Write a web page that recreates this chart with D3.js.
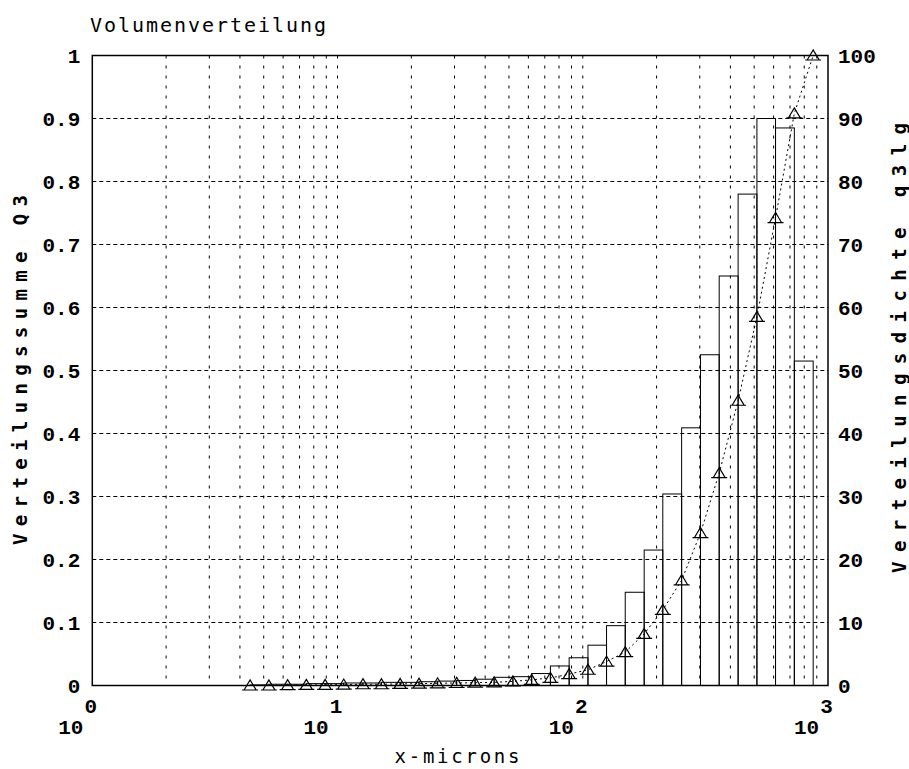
<!DOCTYPE html>
<html>
<head>
<meta charset="utf-8">
<script src="https://cdn.jsdelivr.net/npm/d3@7"></script>
<style>
  html, body { margin: 0; padding: 0; background: #fff; }
  svg { display: block; }
  .lbl { font-family: "DejaVu Sans Mono", monospace; fill: #000; }
  .num { font-family: "Liberation Mono", "DejaVu Sans Mono", monospace; font-weight: bold; fill: #000; }
</style>
</head>
<body>
<svg id="chart" width="909" height="769"></svg>
<script>
// Particle size classes (upper edges, microns)
const binEdges = [4.4, 5.25, 6.26, 7.46, 8.9, 10.6, 12.7, 15.1, 18.0, 21.5, 25.6,
  30.6, 36.4, 43.5, 51.9, 61.9, 73.8, 88.0, 105, 125, 149, 178, 212, 253, 302,
  360, 430, 513, 611, 729, 870];

// Density distribution q3lg per class (right axis, 0..100)
const densityQ3lg = [0.1, 0.2, 0.2, 0.3, 0.3, 0.4, 0.4, 0.5, 0.5, 0.6, 0.7, 0.8,
  1.0, 1.3, 1.4, 1.9, 3.1, 4.4, 6.4, 9.5, 14.8, 21.5, 30.4, 40.9, 52.5, 65,
  78, 90, 88.5, 51.5];

// Cumulative distribution Q3 at each class edge (left axis, 0..1)
const cumulativeQ3 = [0, 0, 0.0005, 0.001, 0.001, 0.0015, 0.002, 0.002, 0.0025,
  0.003, 0.0035, 0.004, 0.0045, 0.005, 0.0065, 0.009, 0.012, 0.018, 0.025,
  0.038, 0.053, 0.082, 0.12, 0.167, 0.242, 0.337, 0.452, 0.585, 0.742, 0.908, 1.0];

const leftTicks = [0, 0.1, 0.2, 0.3, 0.4, 0.5, 0.6, 0.7, 0.8, 0.9, 1];
const leftTickLabels = ["0", "0.1", "0.2", "0.3", "0.4", "0.5", "0.6", "0.7", "0.8", "0.9", "1"];
const rightTicks = [0, 10, 20, 30, 40, 50, 60, 70, 80, 90, 100];
const xDecades = [1, 10, 100, 1000];
const xExponents = ["0", "1", "2", "3"];

const svg = d3.select("#chart");
const L = 92.3, R = 828, T = 55.5, B = 685.5;

const x = d3.scaleLog().domain([1, 1000]).range([L, R]);
const yL = d3.scaleLinear().domain([0, 1]).range([B, T]);
const yR = d3.scaleLinear().domain([0, 100]).range([B, T]);

// Grid
const grid = svg.append("g");
const xGrid = x.ticks().filter(v => v > 1 && v < 1000);
grid.selectAll("line.vg").data(xGrid).join("line")
  .attr("x1", d => x(d)).attr("x2", d => x(d))
  .attr("y1", T).attr("y2", B)
  .attr("stroke", "#000").attr("stroke-width", 1)
  .attr("stroke-dasharray", "3,7");
grid.selectAll("line.hg").data(leftTicks.filter(v => v > 0 && v < 1)).join("line")
  .attr("x1", L).attr("x2", R)
  .attr("y1", d => yL(d)).attr("y2", d => yL(d))
  .attr("stroke", "#000").attr("stroke-width", 1)
  .attr("stroke-dasharray", "4,3");

// Density histogram bars (outlines only)
const bars = densityQ3lg.map((v, i) => ({ lo: binEdges[i], hi: binEdges[i + 1], v }));
svg.append("g").selectAll("rect").data(bars).join("rect")
  .attr("x", d => x(d.lo))
  .attr("width", d => x(d.hi) - x(d.lo))
  .attr("y", d => yR(d.v))
  .attr("height", d => B - yR(d.v))
  .attr("fill", "none").attr("stroke", "#000").attr("stroke-width", 1);

// Cumulative curve
const pts = binEdges.map((e, i) => ({ e, q: cumulativeQ3[i] }));
svg.append("path").datum(pts)
  .attr("d", d3.line().x(d => x(d.e)).y(d => yL(d.q)))
  .attr("fill", "none").attr("stroke", "#000").attr("stroke-width", 1)
  .attr("stroke-dasharray", "2,3");
const tri = "M-6,4.5L0,-5.5L6,4.5Z M-8,4.5L8,4.5";
svg.append("g").selectAll("path").data(pts).join("path")
  .attr("transform", d => `translate(${x(d.e)},${yL(d.q)})`)
  .attr("d", tri)
  .attr("fill", "none").attr("stroke", "#000").attr("stroke-width", 1.2);

// Frame
svg.append("rect").attr("x", L).attr("y", T).attr("width", R - L).attr("height", B - T)
  .attr("fill", "none").attr("stroke", "#000").attr("stroke-width", 1.5);

// Left axis
const axL = svg.append("g").attr("transform", `translate(${L},0)`)
  .call(d3.axisLeft(yL).tickValues(leftTicks).tickSize(0).tickPadding(12)
    .tickFormat((d, i) => leftTickLabels[i]));
axL.select(".domain").remove();
axL.selectAll("text").attr("class", "num").attr("font-size", 21).attr("dy", "0.35em");

// Right axis
const axR = svg.append("g").attr("transform", `translate(${R},0)`)
  .call(d3.axisRight(yR).tickValues(rightTicks).tickSize(0).tickPadding(10));
axR.select(".domain").remove();
axR.selectAll("text").attr("class", "num").attr("font-size", 21).attr("dy", "0.35em");

// Bottom axis: 10 with exponent
const axB = svg.append("g").attr("transform", `translate(0,${B})`)
  .call(d3.axisBottom(x).tickValues(xDecades).tickSize(0).tickPadding(0)
    .tickFormat((d, i) => xExponents[i]));
axB.select(".domain").remove();
axB.selectAll("text").attr("class", "num").attr("font-size", 21)
  .attr("y", 27).attr("dy", 0).attr("x", -2);
axB.selectAll(".tick").append("text")
  .attr("class", "num").attr("font-size", 21)
  .attr("x", -22).attr("y", 48).attr("text-anchor", "middle")
  .text("10");

// Titles
svg.append("text").attr("class", "lbl").attr("font-size", 20)
  .attr("x", 90).attr("y", 32).attr("textLength", 236).attr("lengthAdjust", "spacing")
  .text("Volumenverteilung");
svg.append("text").attr("class", "lbl").attr("font-size", 19)
  .attr("x", 457).attr("y", 763).attr("text-anchor", "middle")
  .attr("textLength", 125).attr("lengthAdjust", "spacing")
  .text("x-microns");
svg.append("text").attr("class", "lbl").attr("font-size", 19).attr("font-weight", "bold")
  .attr("transform", "translate(27,370) rotate(-90)").attr("text-anchor", "middle")
  .attr("textLength", 350).attr("lengthAdjust", "spacing")
  .text("Verteilungssumme Q3");
svg.append("text").attr("class", "lbl").attr("font-size", 19).attr("font-weight", "bold")
  .attr("transform", "translate(906,348) rotate(-90)").attr("text-anchor", "middle")
  .attr("textLength", 450).attr("lengthAdjust", "spacing")
  .text("Verteilungsdichte q3lg");
</script>
</body>
</html>
